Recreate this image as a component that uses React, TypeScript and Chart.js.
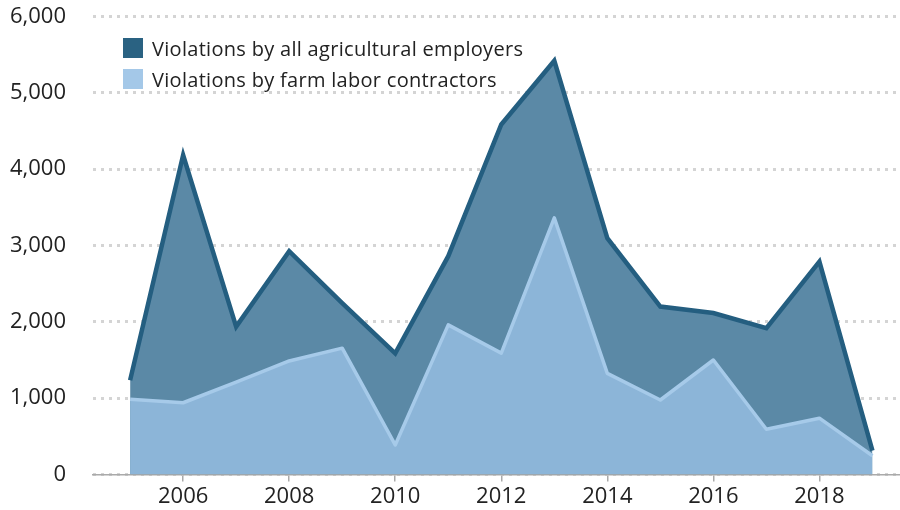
import React, { useEffect, useRef } from "react";
import { Chart, registerables } from "chart.js";

Chart.register(...registerables);

const years = [2005, 2006, 2007, 2008, 2009, 2010, 2011, 2012, 2013, 2014, 2015, 2016, 2017, 2018, 2019];
const allEmployers = [1235, 4185, 1937, 2925, 2245, 1588, 2860, 4585, 5420, 3095, 2200, 2115, 1918, 2790, 312];
const farmLaborContractors = [985, 940, 1210, 1487, 1655, 387, 1960, 1590, 3362, 1325, 976, 1500, 592, 738, 245];
const xTickYears = [2006, 2008, 2010, 2012, 2014, 2016, 2018];
const seriesNames = ["Violations by all agricultural employers", "Violations by farm labor contractors"];
const seriesColors = ["#2a6282", "#a4c8e8"];

const FONT = "'Open Sans', sans-serif";

export default function App() {
  const ref = useRef<HTMLCanvasElement | null>(null);

  useEffect(() => {
    document.body.style.margin = "0";
    const canvas = ref.current;
    if (!canvas) return;
    const chart = new Chart(canvas, {
      type: "line",
      data: {
        datasets: [
          {
            label: seriesNames[1],
            data: years.map((y, i) => ({ x: y, y: farmLaborContractors[i] })),
            borderColor: "#a6cae9",
            backgroundColor: "#8cb5d8",
            borderWidth: 3.5,
            fill: "origin",
            pointRadius: 0,
            tension: 0,
            borderJoinStyle: "round",
          },
          {
            label: seriesNames[0],
            data: years.map((y, i) => ({ x: y, y: allEmployers[i] })),
            borderColor: "#245e80",
            backgroundColor: "#5b89a6",
            borderWidth: 4.5,
            fill: "origin",
            pointRadius: 0,
            tension: 0,
            borderJoinStyle: "miter",
          },
        ],
      },
      options: {
        animation: false,
        responsive: false,
        maintainAspectRatio: false,
        devicePixelRatio: 1,
        layout: { padding: { top: 16.5, right: 0, left: 0, bottom: 0 } },
        plugins: { legend: { display: false }, tooltip: { enabled: false } },
        scales: {
          x: {
            type: "linear",
            min: 2004.3,
            max: 2019.52,
            afterBuildTicks: (scale: any) => {
              scale.ticks = xTickYears.map((v) => ({ value: v }));
            },
            afterFit: (scale: any) => {
              scale.height = 35.5;
            },
            ticks: {
              callback: (v: any) => String(v),
              font: { family: FONT, size: 22 },
              color: "#222",
              padding: 2,
              maxRotation: 0,
              autoSkip: false,
            },
            grid: {
              display: true,
              drawOnChartArea: false,
              drawTicks: true,
              tickLength: 7,
              color: "#aaaaaa",
              lineWidth: 1.5,
            },
            border: { display: true, color: "#aaaaaa", width: 1.5 },
          },
          y: {
            min: 0,
            max: 6000,
            afterFit: (scale: any) => {
              scale.width = 93;
            },
            ticks: {
              stepSize: 1000,
              callback: (v: any) => Number(v).toLocaleString("en-US"),
              font: { family: FONT, size: 22 },
              color: "#222",
              padding: 0,
            },
            grid: {
              color: "#d4d4d4",
              lineWidth: 3,
              drawTicks: true,
              tickLength: 27,
              tickColor: "rgba(0,0,0,0)",
            },
            border: { display: false, dash: [3, 5] },
          },
        },
      },
    });
    return () => chart.destroy();
  }, []);

  return (
    <div style={{ position: "relative", width: 900, height: 510 }}>
      <canvas ref={ref} width={900} height={510} style={{ display: "block" }} />
      {seriesNames.map((name, i) => (
        <div
          key={name}
          style={{
            position: "absolute",
            left: 123,
            top: 38 + i * 31,
            height: 20,
            display: "flex",
            alignItems: "center",
            fontFamily: FONT,
            fontSize: 20,
            letterSpacing: 0.3,
            color: "#222",
            whiteSpace: "nowrap",
          }}
        >
          <span style={{ width: 20, height: 20, background: seriesColors[i], display: "inline-block", marginRight: 9, flex: "none" }} />
          {name}
        </div>
      ))}
    </div>
  );
}
